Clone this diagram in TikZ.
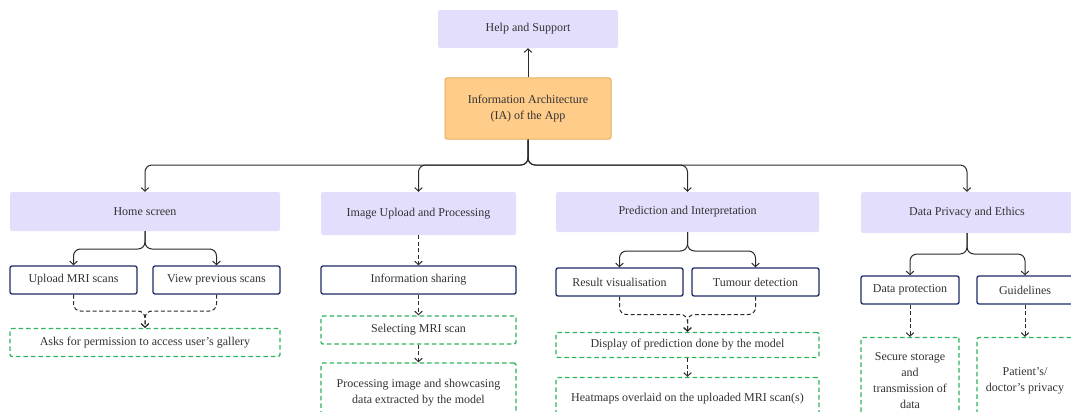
\documentclass[tikz,border=0pt]{standalone}
\usepackage{fontspec}
\setmainfont{Liberation Serif}
\usetikzlibrary{arrows.meta}
\definecolor{lav}{HTML}{E4DEFD}
\definecolor{orfill}{HTML}{FFCC8A}
\definecolor{ordraw}{HTML}{E9AE5C}
\definecolor{navy}{HTML}{1E2A66}
\definecolor{grn}{HTML}{2EB45E}
\definecolor{txt}{HTML}{333333}
\definecolor{ln}{HTML}{2A2A2A}
\tikzset{
  base/.style={align=center, text=txt, font=\fontsize{12}{16}\selectfont, inner sep=1pt},
  lavbox/.style={base, fill=lav, draw=none, rounded corners=1.5pt},
  iabox/.style={base, fill=orfill, draw=ordraw, line width=1pt, rounded corners=2pt},
  navybox/.style={base, fill=white, draw=navy, line width=1.3pt, rounded corners=2pt},
  grnbox/.style={base, fill=white, draw=grn, line width=1.3pt, dash pattern=on 4.5pt off 3pt, rounded corners=2pt},
  conn/.style={draw=ln, line width=1pt, rounded corners=7pt, -{Straight Barb[length=3.5pt,width=7.5pt]}},
  dconn/.style={conn, dash pattern=on 4pt off 2.5pt},
}
\begin{document}
\begin{tikzpicture}[x=1pt,y=-1pt]
\useasboundingbox (0,0) rectangle (1071,412);
\clip (0,0) rectangle (1071,412);
% top
\node[lavbox, minimum width=180pt, minimum height=38pt] (help) at (528,29) {Help and Support};
\node[iabox, minimum width=166pt, minimum height=61pt] (ia) at (528,108.5) {Information Architecture\\(IA) of the App};
% level 1
\node[lavbox, minimum width=270pt, minimum height=39pt] (home) at (145,211.5) {Home screen};
\node[lavbox, minimum width=195pt, minimum height=43pt] (imgup) at (418.5,213.5) {Image Upload and Processing};
\node[lavbox, minimum width=263pt, minimum height=40pt] (pred) at (687.5,212) {Prediction and Interpretation};
\node[lavbox, minimum width=212pt, minimum height=41pt] (priv) at (967,212.5) {Data Privacy and Ethics};
% home branch
\node[navybox, minimum width=127pt, minimum height=28pt] (upload) at (73.5,280) {Upload MRI scans};
\node[navybox, minimum width=127pt, minimum height=28pt] (view) at (216.5,280) {View previous scans};
\node[grnbox, minimum width=270pt, minimum height=28pt] (asks) at (145,342.5) {Asks for permission to access user's gallery};
% image upload branch
\node[navybox, minimum width=195pt, minimum height=28pt] (info) at (418.5,280) {Information sharing};
\node[grnbox, minimum width=195pt, minimum height=28pt] (select) at (418.5,330) {Selecting MRI scan};
\node[grnbox, minimum width=195pt, minimum height=60pt] (process) at (418.5,393) {Processing image and showcasing\\data extracted by the model};
% prediction branch
\node[navybox, minimum width=127pt, minimum height=28pt] (result) at (619.5,282) {Result visualisation};
\node[navybox, minimum width=127pt, minimum height=28pt] (tumour) at (755.5,282) {Tumour detection};
\node[grnbox, minimum width=263pt, minimum height=25pt] (display) at (687.5,345) {Display of prediction done by the model};
\node[grnbox, minimum width=263pt, minimum height=43pt] (heat) at (687.5,399) {Heatmaps overlaid on the uploaded MRI scan(s)};
% privacy branch
\node[navybox, minimum width=98pt, minimum height=28pt] (dprot) at (910,290) {Data protection};
\node[navybox, minimum width=96pt, minimum height=28pt] (guide) at (1025,290) {Guidelines};
\node[grnbox, minimum width=98pt, minimum height=87pt] (secure) at (910,381) {Secure storage\\and\\transmission of\\data};
\node[grnbox, minimum width=96pt, minimum height=87pt] (patient) at (1025,381) {Patient's/\\doctor's privacy};
% helper coordinates
\coordinate (bus) at (528,165);
\coordinate (hs) at (145,249);
\coordinate (hm) at (145,311);
\coordinate (ps) at (687.5,251);
\coordinate (pm) at (687.5,314.5);
\coordinate (vs) at (967,254);
% connectors
\draw[conn] (ia.north) -- (help.south);
\draw[conn] (ia.south) |- (home.north |- bus) -- (home.north);
\draw[conn] (ia.south) |- (imgup.north |- bus) -- (imgup.north);
\draw[conn] (ia.south) |- (pred.north |- bus) -- (pred.north);
\draw[conn] (ia.south) |- (priv.north |- bus) -- (priv.north);
\draw[conn] (home.south) |- (upload.north |- hs) -- (upload.north);
\draw[conn] (home.south) |- (view.north |- hs) -- (view.north);
\draw[dconn] (upload.south) |- (hm) -- (asks.north);
\draw[dconn] (view.south) |- (hm) -- (asks.north);
\draw[dconn] (imgup.south) -- (info.north);
\draw[dconn] (info.south) -- (select.north);
\draw[dconn] (select.south) -- (process.north);
\draw[conn] (pred.south) |- (result.north |- ps) -- (result.north);
\draw[conn] (pred.south) |- (tumour.north |- ps) -- (tumour.north);
\draw[dconn] (result.south) |- (pm) -- (display.north);
\draw[dconn] (tumour.south) |- (pm) -- (display.north);
\draw[dconn] (display.south) -- (heat.north);
\draw[conn] (priv.south) |- (dprot.north |- vs) -- (dprot.north);
\draw[conn] (priv.south) |- (guide.north |- vs) -- (guide.north);
\draw[dconn] (dprot.south) -- (secure.north);
\draw[dconn] (guide.south) -- (patient.north);
\end{tikzpicture}
\end{document}
